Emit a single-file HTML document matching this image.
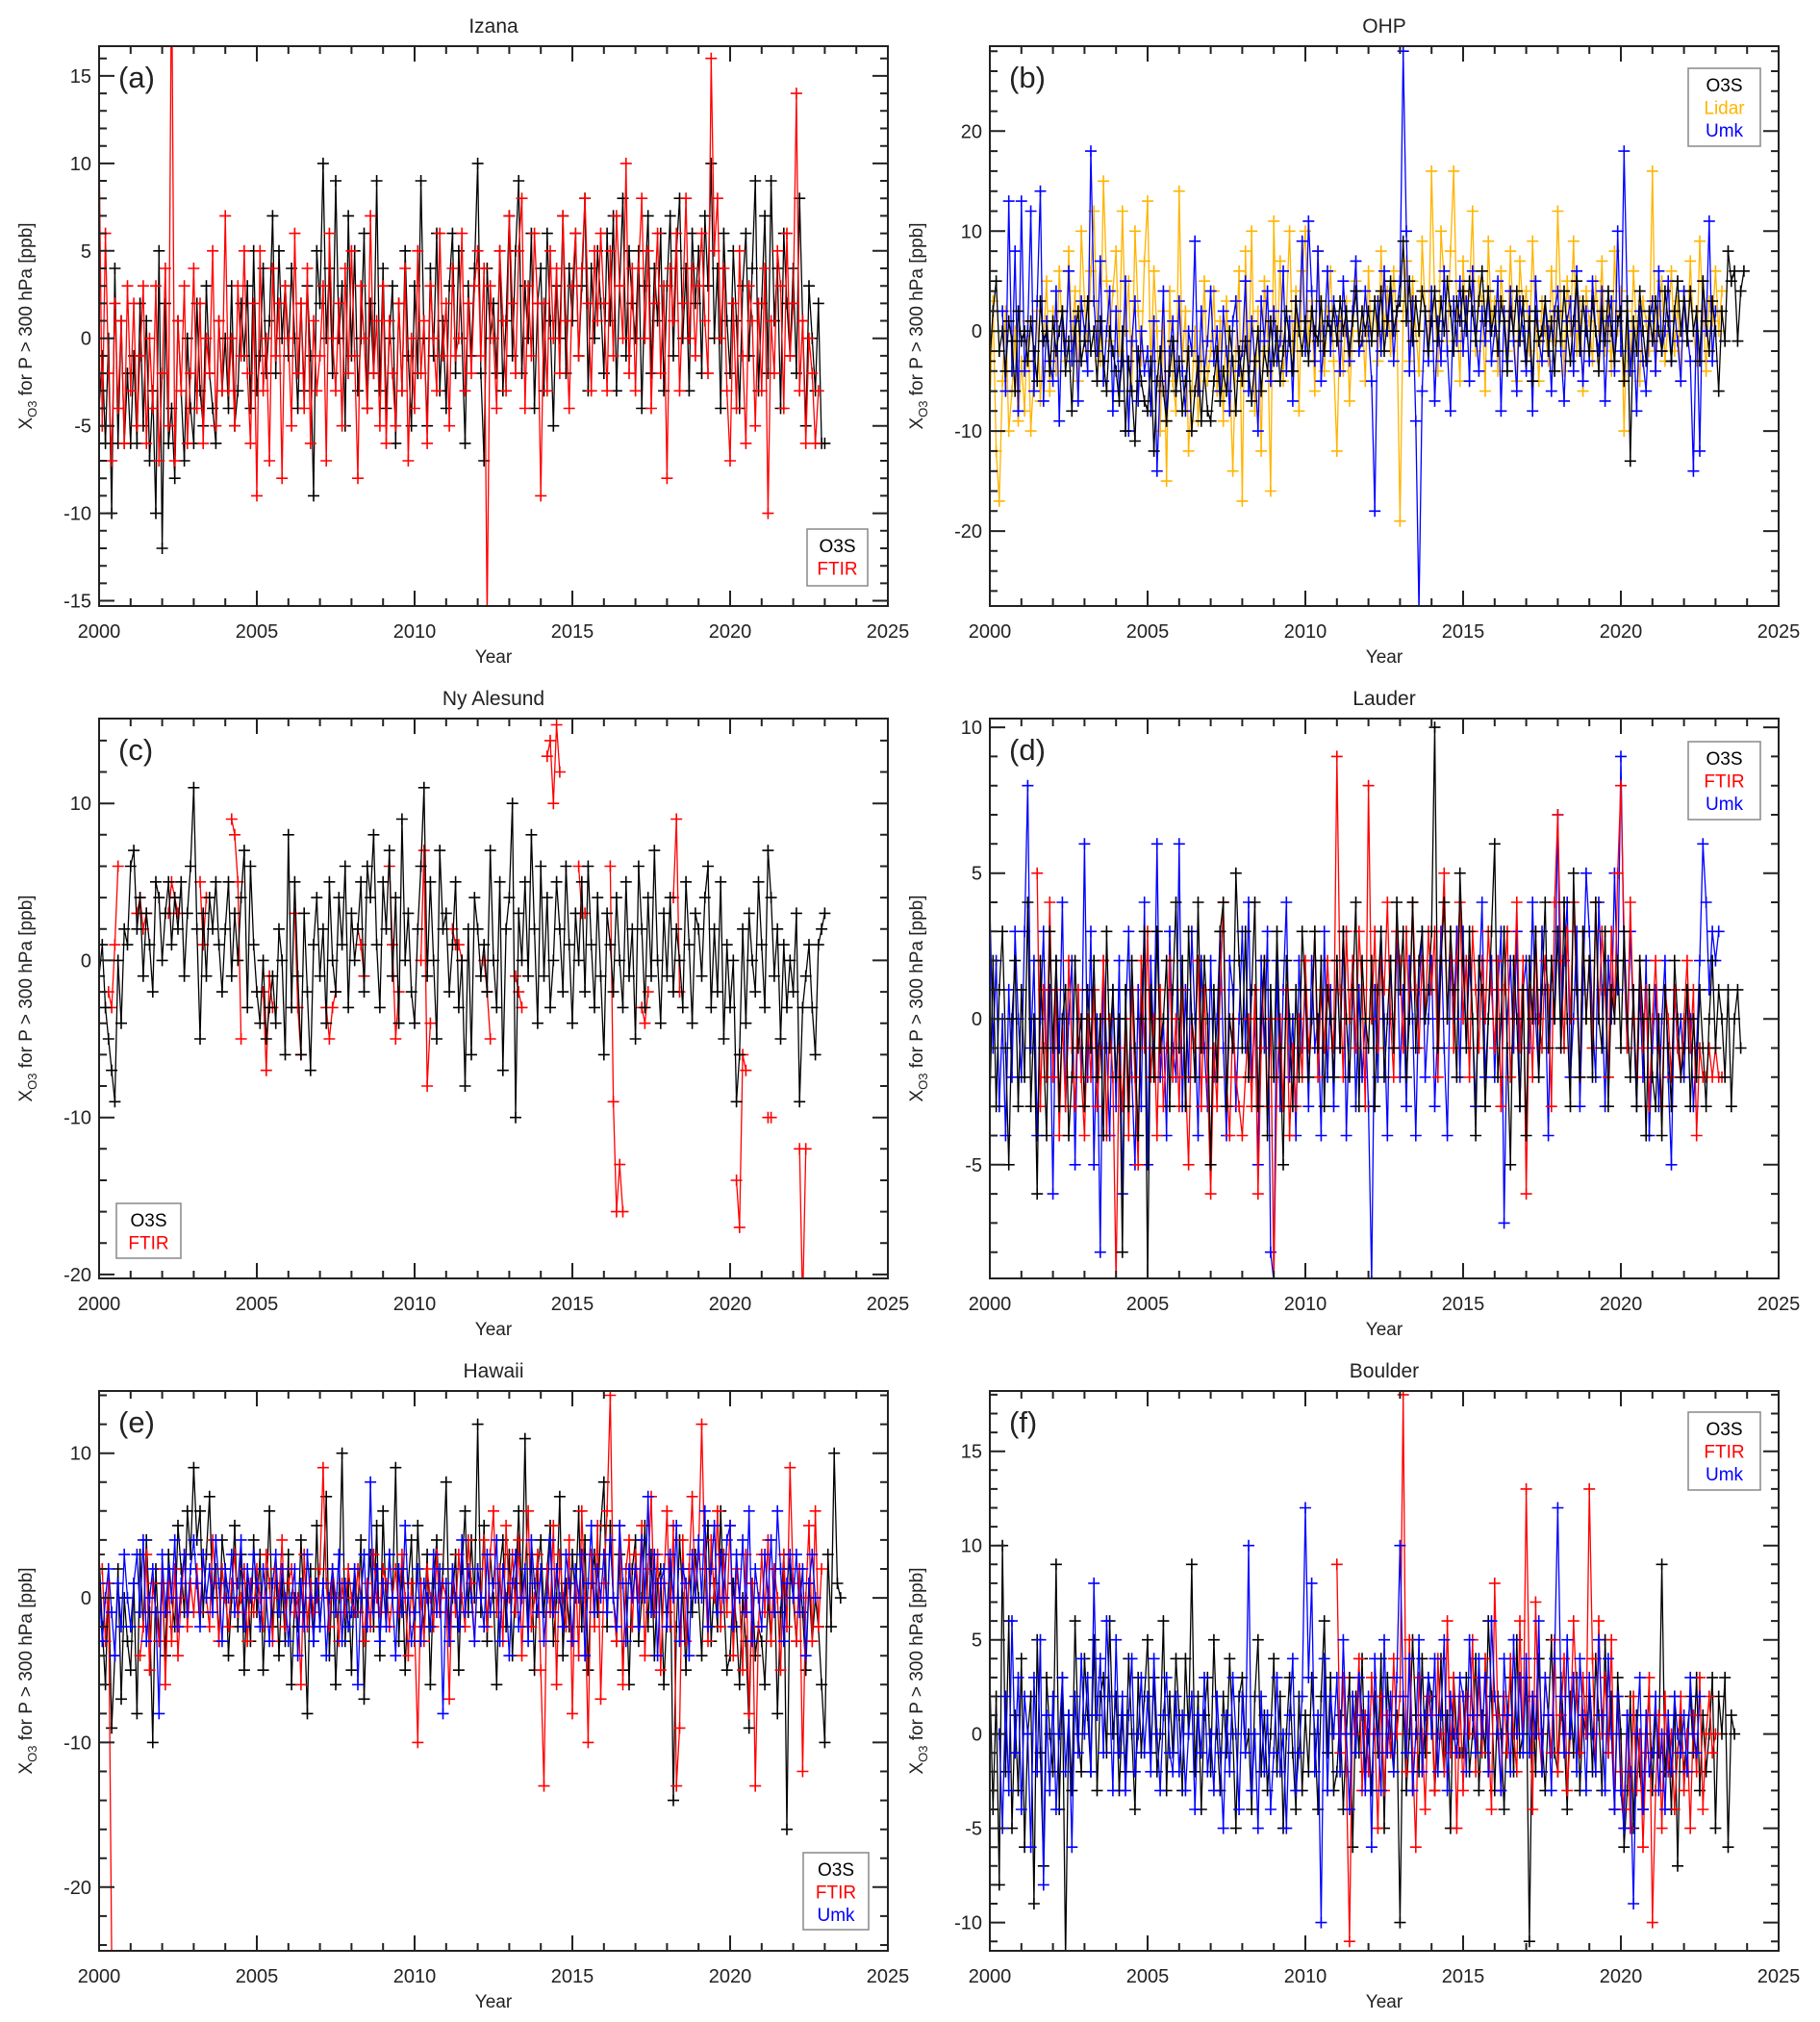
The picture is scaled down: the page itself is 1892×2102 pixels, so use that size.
<!DOCTYPE html>
<html><head><meta charset="utf-8"><style>
html,body{margin:0;padding:0;background:#fff}
svg{display:block;font-family:"Liberation Sans","DejaVu Sans",sans-serif}
</style></head><body>
<svg id="fig" width="1892" height="2102" viewBox="0 0 1892 2102" xmlns="http://www.w3.org/2000/svg"></svg>
<script>
const n = null;
const xTicks = [2000, 2005, 2010, 2015, 2020, 2025];
// ---- Panel a: Izana ----
const aO3S = [-4,-1,-6,0,-10,4,-6,1,-6,-2, -6,-1,-6,2,-5,1,-7,-3,-10,5, -12,2,-6,-4,-8,1,-3,-7,0,-4, -6,2,-3,-5,3,-2,-4,-6,1,-3, 0,-4,3,-5,-3,2,-1,3,-4,5, -3,-1,4,-2,1,7,-2,5,0,3, -1,4,0,-4,2,-3,3,-1,-9,5, 2,10,0,4,-2,9,0,3,-5,7, -1,5,-3,0,6,-4,2,-2,9,-3, 4,-4,0,3,-6,2,-3,5,-1,-5, 3,-2,9,0,-5,4,-1,6,-3,1, -4,3,6,-2,5,0,-6,3,-1,4, 10,-2,-7,4,0,2,-2,5,-3,1, 7,-1,5,9,-2,3,0,6,-4,2, 4,-3,6,1,-5,3,0,7,-2,4, 1,6,-1,3,8,-3,4,0,5,2, -2,6,1,7,-3,3,8,-1,5,2, 0,5,-4,3,7,-2,4,1,6,-3, 3,7,-1,5,8,0,4,-3,6,2, 5,-2,7,3,10,0,4,-4,6,1, -2,5,1,-4,3,6,-1,4,9,-3, 2,7,-2,9,1,4,-4,6,2,-1, 4,-2,8,1,-5,3,0,-3,2,-6, -6];
const aFTIR = [11,-5,6,-2,-7,2,-4,1,-6,3, -3,2,-5,-1,3,-6,0,-4,3,-7, -2,4,-5,22,-7,1,-3,3,-6,-2, 4,-4,2,-6,0,-2,5,-5,1,-3, 7,-3,0,-5,3,-1,5,-2,-6,2, -9,5,-3,0,-7,4,-1,2,-8,3, 0,-5,6,-2,2,-4,4,-6,1,-3, -1,3,-7,6,0,-3,2,-5,4,-2, 5,-1,-8,3,0,-4,7,-2,1,-5, 3,-6,1,-2,-5,2,-3,4,-7,0, -4,5,-2,1,-6,3,0,-3,6,-1, 2,-5,4,-1,0,6,-3,2,-2,3, 5,-1,4,-16,3,0,-4,5,1,-3, 7,2,-2,5,8,-4,3,-1,6,2, -9,2,-3,5,0,4,-2,7,1,-4, 3,6,-1,4,8,2,-3,5,1,6, 2,-3,5,-1,7,3,0,10,-2,4, -3,4,8,0,5,-4,2,6,-2,3, -8,4,1,6,-3,2,8,0,4,-1, 3,6,1,-2,16,5,8,0,4,-3, -7,2,-4,5,-1,-6,3,1,-5,2, -3,4,-10,1,-2,5,3,-4,6,-1, 2,14,-3,1,-6,0,-2,-6,-3];
// ---- Panel b: OHP ----
const bO3S = [-3,2,5,-2,0,-4,1,-1,-6,2, -1,0,-3,1,-2,-5,3,-1,0,-4, 1,-2,0,2,-4,-1,-8,0,2,-3, -1,3,-2,0,-5,1,-3,-6,0,-2, -4,-7,0,-10,-3,-6,-11,-2,-5,-7, -8,-3,-12,-5,-2,-6,-9,-4,-1,-6, -3,-8,-5,-2,-10,-6,-3,-9,-4,-8, -9,-5,-2,-7,-4,-6,0,-3,-8,-2, -5,-1,-4,-7,-3,0,-6,-2,-4,1, -3,0,-5,-2,2,-1,-4,3,0,-2, 1,-3,2,0,-1,3,-2,1,0,2, -1,3,0,2,-2,1,4,-1,2,0, 2,-1,3,0,4,-2,1,5,0,2, 3,9,1,5,-1,3,0,4,2,-2, 1,4,-1,3,0,5,2,-2,3,1, 4,0,5,2,-1,3,6,1,4,0, 2,-2,3,1,-4,2,0,4,-1,3, -3,1,-5,2,-1,0,3,-2,1,-4, 2,-1,4,0,-3,1,5,-2,3,0, -2,3,0,-4,2,-1,4,0,-3,1, 2,-5,3,-13,1,-2,4,0,-3,2, -1,3,0,-2,4,1,-3,2,5,0, 3,-1,4,0,2,-3,5,1,-2,3, 0,-6,2,-1,8,5,6,-1,4,6];
const bLidar = [-8,3,-12,-17,-5,2,-10,-6,0,-9, -3,-8,1,-10,-4,2,-7,-1,5,-6, 2,-4,6,0,-3,8,-1,4,-5,10, 3,-2,6,12,0,-3,15,5,-1,4, 8,-2,12,0,5,-6,10,2,-3,7, 13,-4,6,0,-10,2,-15,4,-5,-8, 14,-3,2,-12,-6,0,-9,-3,5,-5, -2,4,-6,1,-9,3,-4,-14,-2,6, -17,8,-4,10,-8,2,-12,5,0,-16, 11,-3,7,-5,2,10,-2,4,-8,6, 10,-1,3,-6,8,0,-4,2,6,-3, -12,1,-4,3,-7,0,5,-2,2,-5, 6,-1,3,-3,8,0,4,-2,6,1, -19,2,7,-3,5,0,-4,9,2,-2, 16,3,-4,10,5,-1,8,16,2,-5, 7,0,4,12,-2,5,3,-6,9,1, 3,-4,6,1,-2,8,0,-5,7,2, 4,-2,9,1,-5,3,0,-3,6,-1, 12,2,-4,5,0,9,-2,3,-6,4, 1,-3,5,0,7,-2,3,-4,8,0, 4,-10,2,-3,6,0,-5,3,1,-2, 16,-4,2,5,-3,1,6,-2,3,-5, 4,-1,7,0,-3,9,2,-4,3,1, 6,0,4];
const bUmk = [2,-6,13,-4,8,-8, 13,-4,0,12,-6,3,14,-7,1,-3, -5,4,-9,2,-2,6,-3,1,-7,3, 0,-4,18,3,-2,7,-5,0,4,-8, 2,-6,-3,5,-10,-1,3,-7,0,-4, -2,-8,1,-14,-5,4,-9,-2,1,-6, 3,-4,-8,0,-2,9,-6,2,-4,-1, 4,-3,0,-6,2,-2,-8,1,3,-4, -2,5,-6,1,-3,-10,3,-1,4,-5, 2,-3,-1,6,-4,1,-7,3,0,9, -2,11,4,-3,8,-5,0,6,-2,3, 1,-4,5,0,-3,2,7,-2,-1,4, 0,-5,-18,3,-2,6,0,4,-3,2, 5,28,10,-4,3,-9,-28,-6,2,-3, 4,-7,1,-3,6,-2,-8,3,-1,5, -2,3,-5,6,0,-4,2,-1,4,-3, 0,5,-8,2,-3,4,-1,-6,3,0, -4,2,-8,5,-1,-3,3,0,-6,2, 4,-2,-7,1,3,-4,6,0,-5,2, -3,5,0,-2,4,-7,1,3,-4,10, -2,18,3,-4,0,-8,2,-3,-6,1, 3,-4,6,-2,0,5,-3,2,-1,-5, 4,0,-3,-14,2,-12,5,0,11,-3, 2];
// ---- Panel c: Ny Alesund ----
const cO3S = [-1,1,-3,-5,-7,-9,0,-4,2,1, 6,7,2,4,-1,3,1,-2,5,4, 0,3,5,1,4,2,5,-1,3,6, 11,2,-5,3,-1,4,2,5,1,-2, 2,5,-1,3,0,4,7,-3,6,1, -2,-4,0,-5,-3,-1,-4,2,0,-6, 8,-3,5,-1,-6,3,-2,-7,1,4, -1,2,-4,5,0,-2,4,1,6,-3, 3,0,2,5,-2,6,4,8,1,-3, 5,2,7,-1,4,-4,9,0,3,-2, -4,2,6,11,-1,5,0,-5,7,2, 3,-2,1,5,-3,0,-8,2,-6,4, 2,-1,1,-2,7,0,-3,5,-7,2, 4,10,-10,3,0,5,-1,8,2,-4, 6,-1,4,-3,0,5,2,-2,6,1, -4,3,0,5,-2,6,1,-3,4,-1, -6,3,1,-2,4,0,-3,5,-1,2, -5,6,2,-3,4,-1,7,0,-4,3, -1,4,-2,2,0,-3,5,1,-4,3, 2,-1,4,6,-3,2,-2,5,-5,1, -3,0,-9,-6,2,-4,3,0,-2,5, 1,-3,7,4,-1,2,-5,1,-3,0, -2,3,-9,-3,-1,1,-3,-6,1,2, 3];
const cFTIR = [n,n,n,-2,-3,1,6,n,n,n, n,n,3,4,2,3,n,n,n,n, n,n,3,5,4,3,n,n,n,n, n,n,5,1,4,n,n,n,n,n, n,n,9,8,5,-5,n,n,n,n, n,n,-2,-7,-1,-3,n,n,n,n, n,n,3,-3,-6,n,n,n,n,n, n,n,-3,-5,-3,-2,n,n,n,n, n,n,2,1,-1,n,n,n,n,n, n,n,6,1,-5,-2,n,n,n,n, n,n,0,7,-8,-4,n,n,n,n, n,n,2,1,1,0,n,n,n,n, n,n,0,-2,-5,n,n,n,n,n, n,n,-1,-2,-3,n,n,n,n,n, n,n,13,14,10,15,12,n,n,n, n,n,6,3,3,n,n,n,n,n, n,n,6,-9,-16,-13,-16,n,n,n, n,n,-3,-4,-2,n,n,n,n,n, n,n,4,9,-2,n,n,n,n,n, n,n,n,n,n,n,n,n,n,n, n,n,-14,-17,-6,-7,n,n,n,n, n,n,-10,-10,n,n,n,n,n,n, n,n,-12,-22,-12];
// ---- Panel d: Lauder ----
const dO3S = [-3,2,-3,1,3,-1,-5,0,2,-3, 1,-2,4,-3,0,-6,2,-1,-4,3, -1,2,-3,0,1,-4,-2,2,-1,0, -3,1,-1,2,-2,0,-4,3,-1,1, -2,0,-8,1,-3,2,-1,-4,0,3, -9,1,-2,3,-1,0,2,-3,1,4, -1,2,-3,3,0,-2,4,-1,2,0, -5,1,-2,3,4,-3,0,-1,5,2, -1,3,-2,1,4,-3,0,2,-4,1, -2,3,-1,-5,2,0,-3,1,-2,3, 1,-2,0,3,-1,2,-3,1,0,-2, 2,-1,3,0,-2,1,4,-3,2,0, -1,2,-3,1,3,-2,0,2,-1,4, 1,3,-2,0,4,-1,2,3,0,1, 3,10,-1,2,4,0,3,1,-2,5, 2,-1,3,0,-4,2,1,-3,0,3, 6,-2,0,3,-1,-5,2,0,-3,1, -4,2,0,3,-2,1,4,-1,2,0, 3,-1,4,0,-3,5,1,-2,3,0, 2,-2,4,0,-1,3,-3,1,0,2, -1,3,0,-2,1,-3,2,0,-4,1, -2,-3,0,-4,1,-1,-3,2,0,-2, -1,1,-3,0,-2,1,-1,-3,0,2, -1,1,0,-2,1,-3,0,1,-1];
const dFTIR = [5,-3,1,-2,4, -2,1,-4,0,-3,2,-1,-3,1,-2, -4,0,-2,1,-3,-1,2,-4,0,-2, -9,-1,-3,0,-4,1,-2,-5,2,-1, 3,-2,0,-4,1,-3,-1,2,-2,0, -3,1,-2,-5,0,-1,2,-3,1,-2, -6,-1,-3,1,4,-2,-4,0,-2,-3, -4,-2,0,-3,1,-6,-1,2,-3,0, -9,-2,0,-3,1,-4,-1,-3,0,-2, 2,-1,0,3,-2,1,-1,2,0,-1, 9,1,-2,3,0,2,-1,3,1,-3, 8,0,3,-1,2,1,4,0,-2,3, 2,-1,3,0,4,1,-1,2,0,3, 1,3,-2,2,5,0,3,-1,2,4, 0,2,-2,3,1,-1,2,0,3,1, -1,2,-3,1,3,-2,0,4,-1,2, -6,1,-2,3,0,-1,2,1,-3,4, 7,2,-1,3,0,4,1,-2,3,0, 2,-1,4,0,3,1,-2,3,0,5, 8,3,-1,4,0,-2,2,-1,1,-3, 0,2,-1,-3,1,0,-2,1,-1,-2, 0,2,-1,1,-4,-1,-2,-2,-1,-2, -1,-2,-2];
const dUmk = [4,-1,2,-3,0,-4,1,-2,3,0, -2,3,8,-1,2,-4,0,3,-2,1, -6,2,-1,4,-3,0,2,-5,1,-2, 6,-2,3,-5,0,-8,2,-1,-4,1, -3,2,-6,0,3,-2,-5,1,-3,4, -5,2,-1,6,-2,0,-4,3,-1,-2, 6,-3,1,-2,3,0,-4,2,-1,-3, 2,-2,0,3,-1,-4,2,1,-3,0, 3,-1,4,-2,0,-5,2,-1,3,-8, -9,2,-3,1,4,-2,0,-4,2,-1, 1,-3,2,-1,0,-4,3,-2,1,-3, 2,-1,3,-4,0,2,-3,1,-2,0, -3,-9,1,-2,3,0,-4,2,-1,3, -2,1,-3,2,0,-4,1,3,-2,0, 2,-3,0,3,-1,-4,2,0,3,-2, 3,-1,2,0,-3,1,4,-2,0,2, -2,1,3,-7,0,2,-1,3,-3,1, 2,-1,4,0,-2,3,1,-4,2,0, 7,-1,2,4,-2,0,3,-3,1,5, 3,0,-2,4,1,-3,2,0,5,1, 9,2,-1,3,0,-3,1,-2,2,-4, -1,1,-3,0,2,-2,-5,1,-1,0, -2,1,0,-3,-1,2,6,4,1,3, 2,3];
// ---- Panel e: Hawaii ----
const eO3S = [3,-2,-6,1,-9,-4,2,-7,0,-3, -5,1,-8,3,-2,4,-1,-10,2,-3, 1,-4,3,0,-2,5,2,-1,6,3, 9,4,6,-1,3,7,0,2,-3,4, 2,-4,0,5,-2,3,-5,1,-3,4, -1,3,-5,0,6,-2,2,-4,1,-3, 3,-6,0,-2,4,-1,-8,2,-3,5, -2,1,7,-4,2,-6,0,10,-3,1, -5,2,-1,4,-7,0,3,-2,5,-4, 6,-1,3,0,9,-3,2,-5,1,4, -3,5,0,-2,3,-6,1,4,-1,2, 8,-2,0,3,-5,2,6,-1,4,0, 12,-1,5,-3,3,0,-6,2,4,-2, 3,-4,1,6,0,11,-2,3,-5,2, 4,-1,2,5,-3,0,7,-4,1,-2, 3,0,6,-2,4,-5,1,3,-1,5, 8,-2,5,0,-3,3,-5,1,-6,2, 4,-3,0,5,-2,3,-4,1,2,-6, -1,3,-14,-2,4,0,-5,2,-1,3, 0,-4,2,5,-3,1,-2,6,0,-5, -4,1,-2,-6,0,-3,-9,1,-4,-2, -3,-6,0,-3,2,-8,-1,3,-16,2, 0,-3,2,-1,-5,1,-3,0,-2,-6, -10,3,-2,10,1,0];
const eFTIR = [2,-3,1,-25,n,n,n,n,n,n, n,n,-4,-2,3,-5,1,-1,-3,2, -6,1,-3,2,-4,0,3,-2,1,-1, 2,-1,3,0,-2,4,1,-3,2,0, -2,1,3,-1,0,2,-3,1,-1,2, 0,-2,3,1,-3,2,0,4,-2,1, 2,-1,0,-6,3,-2,1,-1,0,2, 9,1,-2,2,0,-3,1,-1,2,0, -1,2,0,-3,1,-2,3,0,-1,2, 1,-2,0,2,-1,3,0,-4,1,-2, -10,1,-3,2,0,-2,3,-1,1,0, -7,2,-1,3,0,-2,4,1,-3,2, 0,4,-2,3,6,-1,2,-3,5,0, 3,-1,4,-4,2,6,-2,0,3,-5, -13,2,-1,5,-6,3,0,-2,4,-8, 2,-4,6,0,-10,3,-2,5,-7,1, 6,14,0,-3,5,-6,2,4,-2,3, 0,5,-4,2,7,-1,3,-5,1,6, -2,5,-13,-9,4,-3,2,7,0,3, 12,2,-3,4,0,6,-2,3,-1,5, -4,2,0,-5,3,-8,1,-13,-2,3, -1,4,-3,2,0,-5,3,-2,9,1, -3,2,-12,0,5,-3,6,-2,2];
const eUmk = [1,-3,0,2,-1,-4,1,-2,3,0, -2,1,3,-1,4,-3,0,2,-1,-8, 3,-1,2,0,4,-2,1,3,-1,2, 4,1,-2,3,0,2,-1,4,1,-3, 2,0,3,-1,1,4,-2,2,0,3, 1,-2,2,0,-3,1,3,-1,2,0, -3,0,2,-4,1,-2,3,0,-3,1, -2,1,-4,0,2,-1,3,-3,1,-2, -1,2,-6,0,3,-2,8,-1,2,-3, 1,-2,3,0,-4,2,-1,5,0,-3, -1,2,-3,1,0,-2,3,-1,2,-8, 1,-3,2,0,-2,4,-1,2,0,-3, 2,0,-2,3,-1,1,4,-3,2,0, -4,1,3,-2,0,2,-3,4,1,-1, 2,-3,0,4,-1,2,0,-2,3,1, -3,2,0,3,-4,1,5,-1,2,0, 3,-1,4,0,-2,5,1,-3,2,0, 2,-2,4,0,7,-1,3,-4,1,2, -2,3,0,5,-3,2,1,-4,3,0, 4,0,6,-2,2,5,-1,3,0,4, 5,-2,3,0,4,-1,6,-3,2,0, -2,3,0,4,-1,6,2,-3,1,3, 0,3,-1,2,-4,1,3,0];
// ---- Panel f: Boulder ----
const fO3S = [3,-4,2,-8,10,-2,6,-5,1,-3, 4,-6,0,2,-9,5,-1,-7,3,0, -2,9,-4,3,-12,1,-3,6,0,-2, 4,1,-2,5,-3,2,3,-1,6,0, 2,-3,1,-2,4,0,-4,3,-1,2, 5,-1,3,-2,0,6,-3,2,-1,4, 1,-3,4,0,9,-2,2,-4,1,3, -2,5,0,-3,2,-1,4,0,-5,2, 3,-1,0,-4,2,5,-2,1,-3,0, 4,-2,2,-5,0,3,-1,-4,2,-3, 1,-2,3,0,-4,2,6,-1,3,-3, -2,1,-4,0,3,-6,2,-1,4,-2, 0,-3,2,-1,4,-5,3,0,-2,1, -10,2,-3,0,5,1,-2,4,-1,3, 2,-3,0,4,-2,1,-5,3,0,-1, -1,3,-2,0,4,-3,1,-1,6,2, -3,2,0,-4,1,3,-2,5,-1,0, 3,-11,2,-2,4,0,-3,1,5,-1, -2,3,0,-4,2,-1,3,-3,1,0, 2,-2,4,1,-3,5,-1,2,-4,3, 0,-6,-3,2,-5,1,-2,-4,0,2, -3,1,-1,9,-2,0,-4,2,-7,1, -2,0,2,-1,3,-3,1,-2,0,3, -5,2,0,3,-6,1,0];
const fFTIR = [9,-1,3,-2,-11,2,0,4,-3,1, -2,3,0,-5,2,-3,1,-1,4,0, 2,18,-2,5,-1,-6,3,0,-4,2, 1,-3,4,0,-2,6,-1,3,-5,2, -3,2,0,5,-2,3,-1,4,0,-4, 8,1,-3,2,-1,4,0,-2,6,-1, 13,2,-4,7,0,-2,3,1,-1,5, -2,1,4,-3,0,6,2,-1,3,0, 13,4,-2,6,0,3,-1,5,-4,2, -2,-4,1,-5,2,-3,0,-6,-1,3, -10,-3,1,-5,2,-2,0,-4,-1,2, -3,0,-5,1,-2,3,-4,0,2,-1, 0];
const fUmk = [0,-5,2,-3,6,-1,3, -4,2,0,-6,3,-2,5,-8,1,-3, 2,-4,0,3,-2,1,-6,2,-1,4, 0,3,-2,8,1,4,-1,6,2,-3, 5,-1,2,-3,1,4,-2,0,3,-1, 2,-2,4,0,-3,1,3,-1,-2,2, -2,1,-3,0,2,-4,1,-1,3,-2, 0,-3,2,-1,-5,1,-2,3,0,-4, 2,-1,10,-3,0,-5,2,-2,1,-4, -1,3,-2,0,-5,1,4,-3,-1,2, 12,3,8,-2,1,-10,4,-3,2,0, 3,-2,5,0,-4,2,-1,3,1,-3, 2,-6,4,0,-3,5,-1,2,-2,3, 10,2,-1,4,-3,0,5,-2,1,3, 0,4,-2,1,5,-3,2,0,-1,3, 2,-2,5,1,-1,4,0,3,-2,6, 2,0,-3,4,1,-2,5,0,3,-1, 4,-1,2,0,6,-2,3,1,-3,4, 12,2,-1,5,0,3,-2,4,1,-3, 3,0,-2,5,1,-3,4,0,-4,2, -3,-5,1,-2,-9,0,3,-4,1,-2, -1,2,-3,0,-4,1,-2,2,0,-1, 1,-2,3,0,-1,2];

const BLK='#000', RED='#ff0000', BLU='#0000ff', ORG='#ffb400';
const panels = [
 {id:'a',title:'Izana',x:103,y:48,ymin:-15.3,ymax:16.7,yticks:[-15,-10,-5,0,5,10,15],minor:1,
  series:[{name:'o3s',v:aO3S,s:2000,c:BLK},{name:'ftir',v:aFTIR,s:2000,c:RED}],
  leg:{x:839,y:550,w:63,h:59,items:[['O3S',BLK],['FTIR',RED]]}},
 {id:'b',title:'OHP',x:1029,y:48,ymin:-27.5,ymax:28.5,yticks:[-20,-10,0,10,20],minor:2,
  series:[{name:'lidar',v:bLidar,s:2000,c:ORG},{name:'umk',v:bUmk,s:2000.4,c:BLU},{name:'o3s',v:bO3S,s:2000,c:BLK}],
  leg:{x:1755,y:71,w:75,h:81,items:[['O3S',BLK],['Lidar',ORG],['Umk',BLU]]}},
 {id:'c',title:'Ny Alesund',x:103,y:747,ymin:-20.25,ymax:15.4,yticks:[-20,-10,0,10],minor:2,
  series:[{name:'ftir',v:cFTIR,s:2000,c:RED},{name:'o3s',v:cO3S,s:2000,c:BLK}],
  leg:{x:121,y:1251,w:67,h:57,items:[['O3S',BLK],['FTIR',RED]]}},
 {id:'d',title:'Lauder',x:1029,y:747,ymin:-8.9,ymax:10.3,yticks:[-5,0,5,10],minor:1,
  series:[{name:'umk',v:dUmk,s:2000,c:BLU},{name:'ftir',v:dFTIR,s:2001.5,c:RED},{name:'o3s',v:dO3S,s:2000,c:BLK}],
  leg:{x:1755,y:771,w:75,h:81,items:[['O3S',BLK],['FTIR',RED],['Umk',BLU]]}},
 {id:'e',title:'Hawaii',x:103,y:1446,ymin:-24.4,ymax:14.3,yticks:[-20,-10,0,10],minor:2,
  series:[{name:'o3s',v:eO3S,s:2000,c:BLK},{name:'ftir',v:eFTIR,s:2000.1,c:RED},{name:'umk',v:eUmk,s:2000,c:BLU}],
  leg:{x:835,y:1926,w:68,h:80,items:[['O3S',BLK],['FTIR',RED],['Umk',BLU]]}},
 {id:'f',title:'Boulder',x:1029,y:1446,ymin:-11.5,ymax:18.2,yticks:[-10,-5,0,5,10,15],minor:1,
  series:[{name:'o3s',v:fO3S,s:2000,c:BLK},{name:'ftir',v:fFTIR,s:2011,c:RED},{name:'umk',v:fUmk,s:2000.3,c:BLU}],
  leg:{x:1755,y:1468,w:75,h:81,items:[['O3S',BLK],['FTIR',RED],['Umk',BLU]]}}
];
const W=820, H=582, STEP=0.1;
const svg=document.getElementById('fig');
const NS='http://www.w3.org/2000/svg';
function mk(tag, attrs, parent){const e=document.createElementNS(NS,tag);for(const k in attrs)e.setAttribute(k,attrs[k]);(parent||svg).appendChild(e);return e;}
function txt(str, attrs, parent){const e=mk('text',attrs,parent);e.textContent=str;return e;}
const defs=mk('defs',{});
panels.forEach(p=>{
  const xs=t=>p.x+(t-2000)/25*W;
  const ys=v=>p.y+(p.ymax-v)/(p.ymax-p.ymin)*H;
  const g=mk('g',{});
  
  
  const cp=mk('clipPath',{id:'clip'+p.id},defs);
  mk('rect',{x:p.x,y:p.y,width:W,height:H},cp);
  const sg=mk('g',{'clip-path':'url(#clip'+p.id+')'},g);
  p.series.forEach(s=>{
    const sgrp=mk('g',{},sg);
    
    
    let d='', pen=false, cr='';
    s.v.forEach((v,i)=>{
      if(v===null){pen=false;return;}
      const X=xs(s.s+i*STEP), Y=ys(v);
      d+=(pen?'L':'M')+X.toFixed(1)+' '+Y.toFixed(1);
      pen=true;
      cr+='M'+(X-6).toFixed(1)+' '+Y.toFixed(1)+'h12M'+X.toFixed(1)+' '+(Y-6).toFixed(1)+'v12';
    });
    mk('path',{d:d,fill:'none',stroke:s.c,'stroke-width':1.3},sgrp);
    mk('path',{d:cr,fill:'none',stroke:s.c,'stroke-width':1.6},sgrp);
  });
  // frame
  const fr=mk('rect',{x:p.x,y:p.y,width:W,height:H,fill:'none',stroke:'#222','stroke-width':2},g);
  
  
  let td='';
  for(let yr=2000;yr<=2025;yr++){
    const X=xs(yr), L=(yr%5===0)?16:8;
    td+='M'+X+' '+(p.y+H)+'v'+(-L)+'M'+X+' '+p.y+'v'+L;
  }
  for(let v=Math.ceil(p.ymin/p.minor)*p.minor; v<=p.ymax; v+=p.minor){
    const Y=ys(v), major=p.yticks.some(t=>Math.abs(t-v)<1e-6), L=major?16:8;
    td+='M'+p.x+' '+Y.toFixed(1)+'h'+L+'M'+(p.x+W)+' '+Y.toFixed(1)+'h'+(-L);
  }
  mk('path',{d:td,stroke:'#222','stroke-width':2,fill:'none'},g);
  xTicks.forEach(t=>{
    const e=txt(String(t),{x:xs(t),y:p.y+H+33,'font-size':20,'text-anchor':'middle',fill:'#222'},g);
    
    
  });
  p.yticks.forEach(t=>{
    const e=txt(String(t),{x:p.x-8,y:ys(t)+7,'font-size':20,'text-anchor':'end',fill:'#222'},g);
    
    
  });
  const ttl=txt(p.title,{x:p.x+W/2,y:p.y-14,'font-size':21,'text-anchor':'middle',fill:'#222'},g);
  
  
  const lt=txt('('+p.id+')',{x:p.x+20,y:p.y+43,'font-size':31,fill:'#222'},g);
  
  
  const xl=txt('Year',{x:p.x+W/2,y:p.y+H+59,'font-size':19,'text-anchor':'middle',fill:'#222'},g);
  
  
  const cx=p.x-70, cy=p.y+H/2;
  const yl=mk('text',{x:cx,y:cy,'font-size':19,'text-anchor':'middle',fill:'#222',transform:'rotate(-90 '+cx+' '+cy+')'},g);
  
  
  const t1=mk('tspan',{},yl); t1.textContent='X';
  const t2=mk('tspan',{'font-size':13,dy:5},yl); t2.textContent='O3';
  const t3=mk('tspan',{dy:-5},yl); t3.textContent=' for P > 300 hPa [ppb]';
  const lg=mk('g',{},g);
  
  
  const L=p.leg;
  mk('rect',{x:L.x,y:L.y,width:L.w,height:L.h,fill:'#fff',stroke:'#888','stroke-width':1.5},lg);
  L.items.forEach((it,i)=>{
    const e=txt(it[0],{x:L.x+L.w/2,y:L.y+24+i*23.5,'font-size':19,'text-anchor':'middle',fill:it[1]},lg);
    
    
  });
});
</script>
</body></html>
